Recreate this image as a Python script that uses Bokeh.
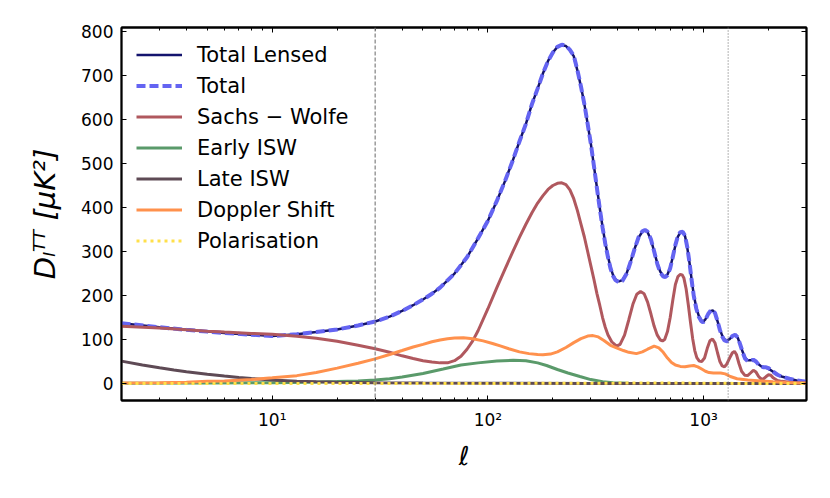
from bokeh.plotting import figure
from bokeh.models import (Range1d, FixedTicker, CustomJSTickFormatter, LogAxis,
                          LinearAxis, Span)
from bokeh.embed import file_html
from bokeh.resources import INLINE

# ---------------- data ----------------
ell_total = [2, 3, 4, 5, 6, 8, 10, 13, 16, 20, 25, 30, 35, 40, 45, 50, 55, 60,
             70, 80, 90, 100, 110, 120, 130, 140, 150, 160, 170, 180, 190, 200,
             210, 220, 230, 240, 250, 260, 270, 280, 290, 300, 310, 320, 330,
             340, 350, 360, 370, 380, 390, 405, 420, 440, 460, 480, 500, 520,
             535, 550, 570, 590, 610, 630, 650, 665, 680, 700, 720, 740, 760,
             780, 800, 820, 840, 860, 880, 900, 925, 950, 975, 995, 1020, 1050,
             1080, 1105, 1130, 1160, 1190, 1220, 1250, 1285, 1320, 1360, 1400,
             1440, 1480, 1520, 1560, 1600, 1650, 1700, 1750, 1800, 1850, 1900,
             1950, 2000, 2100, 2200, 2300, 2500, 2700, 3000]
total = [137, 128, 122, 118, 115, 111, 108, 112, 117, 123, 132, 141, 152, 165,
         178, 191, 204, 218, 250, 287, 330, 370, 415, 460, 505, 550, 590, 635,
         670, 705, 733, 752, 765, 770, 768, 758, 745, 712, 675, 635, 590, 545,
         495, 445, 398, 355, 318, 288, 262, 245, 235, 230, 233, 250, 278, 308,
         333, 346, 349, 345, 328, 300, 272, 252, 243, 242, 246, 262, 288, 315,
         335, 344, 345, 336, 310, 275, 235, 200, 170, 152, 142, 139, 145, 158,
         166, 167, 160, 142, 122, 107, 98, 96, 100, 108, 111, 105, 88, 70, 56,
         51, 52, 54, 50, 43, 38, 37, 37, 35, 27, 20, 16, 11, 7, 4]
total_lensed = [137, 128, 122, 118, 115, 111, 108, 112, 117, 123, 132, 141, 152,
                165, 178, 191, 204, 218, 250, 287, 330, 370, 415, 460, 505, 550,
                590, 635, 670, 705, 733, 752, 765, 769, 767, 757, 744, 711, 675,
                635, 590, 545, 495, 446, 399, 356, 320, 290, 264, 247, 237, 232,
                235, 251, 279, 308, 332, 345, 348, 344, 327, 300, 273, 254, 245,
                244, 248, 263, 288, 314, 334, 343, 344, 335, 309, 275, 236, 202,
                172, 154, 144, 141, 146, 158, 165, 166, 159, 142, 123, 109, 100,
                98, 101, 108, 110, 104, 88, 71, 58, 53, 53, 54, 50, 44, 39, 37,
                36, 34, 27, 20, 16, 11, 7, 4]

ell_sw = [2, 3, 4, 5, 6, 8, 10, 13, 16, 20, 25, 30, 35, 40, 45, 50, 55, 60, 65,
          70, 75, 80, 85, 90, 100, 110, 120, 130, 140, 150, 160, 170, 180, 190,
          200, 210, 220, 230, 240, 250, 260, 270, 280, 290, 300, 310, 320, 330,
          340, 350, 360, 375, 395, 410, 430, 450, 470, 490, 510, 530, 550, 570,
          590, 610, 630, 645, 660, 680, 700, 720, 740, 760, 780, 795, 810, 830,
          850, 870, 890, 910, 930, 955, 980, 1010, 1040, 1070, 1100, 1130, 1160,
          1190, 1220, 1250, 1280, 1320, 1360, 1390, 1420, 1460, 1500, 1550,
          1600, 1650, 1700, 1750, 1800, 1850, 1900, 1950, 2000, 2050, 2100,
          2200, 2300, 2500, 2700, 3000]
sachs_wolfe = [130, 126, 122, 119, 117, 114, 112, 107.5, 103, 96, 87, 79, 71,
               63, 57, 52, 49, 47, 47, 52, 62, 78, 97, 120, 170, 218, 260, 298,
               332, 362, 388, 410, 427, 441, 450, 455, 456, 452, 440, 420, 393,
               362, 333, 300, 268, 237, 205, 178, 150, 128, 111, 95, 85, 89, 110,
               145, 180, 203, 209, 204, 185, 158, 130, 110, 99, 97, 100, 118,
               150, 190, 225, 243, 248, 247, 240, 215, 178, 138, 102, 75, 59, 51,
               50, 58, 80, 97, 101, 92, 70, 50, 40, 38, 44, 58, 70, 73, 66, 45,
               28, 19, 18, 24, 30, 26, 16, 10, 11, 16, 20, 19, 13, 7, 5, 3, 2, 1]

ell_eisw = [2, 5, 10, 15, 20, 25, 30, 35, 40, 50, 62, 75, 90, 110, 131, 150,
            170, 187, 210, 235, 267, 300, 340, 380, 450, 600, 1000, 3000]
early_isw = [0.5, 1, 2, 3, 4.5, 6, 8, 11, 15, 23, 33, 42, 47, 51, 53, 52, 47,
             41, 32, 24, 16, 9, 4, 2, 0.8, 0.3, 0.1, 0]

ell_lisw = [2, 2.5, 3, 3.5, 4, 5, 6, 7, 8, 10, 13, 16, 20, 30, 50, 100, 300, 3000]
late_isw = [51, 42, 36, 31, 27, 21, 17, 14, 11.5, 8, 5.5, 4, 3, 2, 1.2, 0.6,
            0.3, 0.1]

ell_dop = [2, 3, 4, 5, 6, 8, 10, 13, 16, 20, 25, 30, 35, 40, 45, 50, 55, 60, 65,
           70, 77, 85, 95, 105, 115, 125, 140, 155, 170, 180, 195, 210, 230, 250,
           270, 290, 307, 325, 345, 370, 400, 425, 450, 488, 520, 550, 590, 620,
           650, 680, 710, 740, 780, 820, 860, 900, 940, 980, 1020, 1060, 1110,
           1160, 1200, 1260, 1330, 1430, 1600, 1850, 2100, 2400, 2700, 3000]
doppler = [1, 2, 3, 5, 6, 9, 13, 18, 25, 35, 46, 56, 66, 75, 83, 89, 95, 99, 102,
           103.5, 104, 102, 97, 91, 85, 79, 72, 68, 66, 65.5, 67, 72, 82, 93,
           102, 108, 109, 106, 98, 87, 80, 75, 71, 68, 72, 78, 85, 81, 71, 58,
           48, 42, 39, 38, 40, 41, 38, 33, 28, 25, 24, 24, 24, 22, 16, 11, 8, 6,
           4, 2.5, 1.5, 1]

ell_pol = [2, 10, 30, 100, 200, 400, 700, 1000, 1500, 3000]
polarisation = [0.05, 0.05, 0.1, 0.3, 0.5, 1.0, 1.2, 0.8, 0.3, 0.05]

ell_boundaries = [30, 1300]
y_ticks = [0, 100, 200, 300, 400, 500, 600, 700, 800]
x_major = [10, 100, 1000]
x_minor = [m * 10 ** d for d in range(0, 4) for m in range(2, 10) if m * 10 ** d <= 3000]

FONT = "DejaVu Sans"

# ---------------- figure ----------------
p = figure(width=822, height=490, x_axis_type="log",
           x_range=Range1d(2, 3000), y_range=Range1d(-38.5, 809),
           output_backend="svg", toolbar_location=None,
           min_border_left=121, min_border_right=16,
           min_border_top=27, min_border_bottom=90)
p.xgrid.visible = False
p.ygrid.visible = False
p.outline_line_color = "black"
p.outline_line_width = 1.8
p.background_fill_color = "white"
p.border_fill_color = "white"

p.add_layout(Span(location=ell_boundaries[0], dimension="height",
                  line_color="#808080", line_dash="4 2", line_width=1.2))
p.add_layout(Span(location=ell_boundaries[1], dimension="height",
                  line_color="#808080", line_dash="1 2", line_width=1.2))

p.line(ell_total, total_lensed, line_color="#14146e", line_width=2.5,
       legend_label="Total Lensed")
p.line(ell_total, total, line_color="#6464f2", line_width=4,
       line_dash="9 4", legend_label="Total")
p.line(ell_sw, sachs_wolfe, line_color="#b0585e", line_width=3,
       legend_label="Sachs \u2212 Wolfe")
p.line(ell_eisw, early_isw, line_color="#5a9a6a", line_width=3,
       legend_label="Early ISW")
p.line(ell_lisw, late_isw, line_color="#5e4a55", line_width=3,
       legend_label="Late ISW")
p.line(ell_dop, doppler, line_color="#ff914d", line_width=3,
       legend_label="Doppler Shift")
p.line(ell_pol, polarisation, line_color="#ffe04a", line_width=3,
       line_dash="3 4", legend_label="Polarisation")

# ---------------- axes ----------------
sup_code = """
const sup = {"0":"\u2070","1":"\u00b9","2":"\u00b2","3":"\u00b3","4":"\u2074","-":"\u207b"};
const e = Math.round(Math.log10(tick));
return "10" + String(e).split("").map(c => sup[c]).join("");
"""
xa = p.xaxis[0]
xa.ticker = FixedTicker(ticks=x_major, minor_ticks=x_minor)
xa.formatter = CustomJSTickFormatter(code=sup_code)
xa.axis_label = "\u2113"
ya = p.yaxis[0]
ya.ticker = FixedTicker(ticks=y_ticks, minor_ticks=[])
ya.axis_label = "D\u2097\u1d40\u1d40 [\u03bcK\u00b2]"

top = LogAxis(ticker=FixedTicker(ticks=x_major, minor_ticks=x_minor),
              formatter=CustomJSTickFormatter(code="return ''"))
right = LinearAxis(ticker=FixedTicker(ticks=y_ticks, minor_ticks=[]),
                   formatter=CustomJSTickFormatter(code="return ''"))
p.add_layout(top, "above")
p.add_layout(right, "right")

for ax in [xa, ya, top, right]:
    ax.axis_line_color = "black"
    ax.axis_line_width = 1.8
    ax.major_tick_in = 5
    ax.major_tick_out = 0
    ax.minor_tick_in = 3
    ax.minor_tick_out = 0
    ax.major_tick_line_color = "black"
    ax.minor_tick_line_color = "black"
    ax.major_tick_line_width = 1
    ax.minor_tick_line_width = 1
    ax.major_label_text_font = FONT
    ax.major_label_text_font_size = "17px"
    ax.major_label_text_color = "black"
    ax.axis_label_text_font = FONT
    ax.axis_label_text_color = "black"
for ax in [top, right]:
    ax.major_label_text_font_size = "0px"
    ax.major_label_standoff = 0

xa.major_label_standoff = 9
ya.major_label_standoff = 8
xa.axis_label_text_font_size = "26px"
xa.axis_label_text_font_style = "italic"
xa.axis_label_standoff = 8
ya.axis_label_text_font_size = "29px"
ya.axis_label_text_font_style = "italic"
ya.axis_label_standoff = 16

# ---------------- legend ----------------
lg = p.legend[0]
lg.location = "top_left"
lg.margin = 15
lg.padding = 0
lg.border_line_color = None
lg.background_fill_alpha = 0
lg.glyph_width = 46
lg.glyph_height = 25
lg.label_height = 25
lg.spacing = 6
lg.label_standoff = 15
lg.label_text_font = FONT
lg.label_text_font_size = "21px"
lg.label_text_color = "black"

open("out.html", "w").write(file_html(p, INLINE))
